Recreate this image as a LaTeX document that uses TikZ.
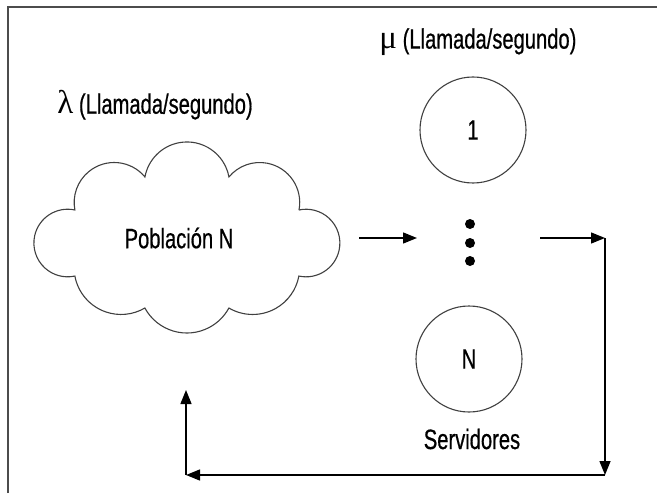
\documentclass[tikz,border=0pt]{standalone}
\usepackage{fontspec}
\setmainfont{Liberation Sans}[FakeStretch=0.72,FakeBold=0.6]
\newfontfamily\griega{Liberation Serif}
\usetikzlibrary{arrows.meta,positioning}

\begin{document}
\begin{tikzpicture}[x=0.5pt,y=0.5pt,
  texto/.style={font=\fontsize{14}{16}\selectfont,inner sep=0pt},
  servidor/.style={circle,draw=black!75,line width=0.55pt,minimum size=53pt,inner sep=0pt,font=\fontsize{14}{16}\selectfont},
  punto/.style={circle,fill=black,minimum size=5pt,inner sep=0pt},
  flecha/.style={-{Triangle[length=7pt,width=5.5pt]},line width=0.7pt},
  nube/.style={draw=black!75,line width=0.55pt}]
\useasboundingbox (0,0) rectangle (657,493);

% Marco
\draw[black!70,line width=1pt] (7.5,0) -- (7.5,485.7) -- (657,485.7);

% Poblacion
\coordinate (c) at (187,250);
\draw[nube] (c) ++(112,33)
  arc[start angle=-10.8,end angle=140.3,radius=40]
  arc[start angle=10.4,end angle=169.6,radius=42.7]
  arc[start angle=39.7,end angle=190.8,radius=40]
  arc[start angle=77.7,end angle=282.3,radius=33.8]
  arc[start angle=190.5,end angle=300.4,radius=47]
  arc[start angle=208.5,end angle=331.5,radius=47.8]
  arc[start angle=239.6,end angle=349.5,radius=47]
  arc[start angle=-102.3,end angle=102.3,radius=33.8] -- cycle;
\node[texto] (pob) at (179,255) {Población N};
\node[texto,anchor=west] (lam) at (57,388) {{\griega\fontsize{16.5}{16}\selectfont λ} (Llamada/segundo)};

% Servidores
\node[texto,anchor=west] (mu) at (379,451) {{\griega\fontsize{16.5}{16}\selectfont μ} (Llamada/segundo)};
\node[servidor] (s1) at (473,363) {1};
\foreach \y/\n in {269/a,250/b,232/c}
  \node[punto] (p\n) at (470,\y) {};
\node[servidor] (sN) at (469,134) {N};
\node[texto] (srv) at (472,54) {Servidores};

% Flechas
\coordinate (a1) at (359,255);
\coordinate (a2) at (417,255);
\coordinate (b1) at (540,255);
\coordinate (b2) at (605,255);
\coordinate (b3) at (605,18);
\coordinate (b4) at (186,18);
\coordinate (b5) at (186,103);
\draw[flecha] (a1) -- (a2);
\draw[flecha] (b1) -- (b2);
\draw[flecha] (b2) -- (b3);
\draw[flecha] (b3) -- (b4);
\draw[flecha] (b4) -- (b5);
\end{tikzpicture}
\end{document}
